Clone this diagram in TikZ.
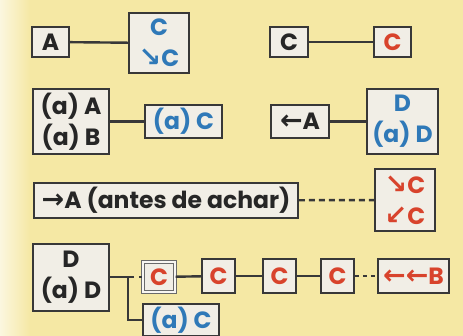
\documentclass[tikz,border=0pt]{standalone}
\usepackage{fontspec}
\setmainfont{Poppins}
\newfontfamily\arrowfont{DejaVu Sans}
\usetikzlibrary{positioning}
\definecolor{paperyellow}{HTML}{F5E8A4}
\definecolor{boxfill}{HTML}{F1EEE6}
\definecolor{boxline}{HTML}{383838}
\definecolor{termblue}{HTML}{2F79B8}
\definecolor{termred}{HTML}{D8432C}
\newcommand{\arr}[1]{{\arrowfont\bfseries\fontsize{27}{31}\selectfont #1}}
\tikzset{
  box/.style={draw=boxline,line width=1.8pt,fill=boxfill,align=center,inner sep=0pt,font=\bfseries\fontsize{23.5}{31}\selectfont,text=black!85},
  bluebox/.style={box,text=termblue},
  redbox/.style={box,text=termred},
  link/.style={line width=2.4pt,draw=boxline},
  dashlink/.style={link,dash pattern=on 6pt off 4pt}
}
\begin{document}
\begin{tikzpicture}[x=1pt,y=-1pt]
  \clip (0,0) rectangle (463,336);
  \fill[paperyellow] (0,0) rectangle (463,336);
  \shade[left color=paperyellow!35!white,right color=paperyellow] (0,0) rectangle (30,336);
  % first row
  \node[box,minimum width=37pt,minimum height=30pt] (a) at (50.5,42) {A};
  \node[bluebox,minimum width=60pt,minimum height=60pt] (csw) at (159,43) {C\\\arr{↘}C};
  \node[box,minimum width=38pt,minimum height=30pt] (c) at (289,42) {C};
  \node[redbox,minimum width=37pt,minimum height=30pt] (cred) at (392.5,42) {C};
  % second row
  \node[box,minimum width=76pt,minimum height=65pt] (aab) at (71,121.5) {(a) A\\(a) B};
  \node[bluebox,minimum width=77pt,minimum height=33pt] (ac) at (183.5,121.5) {(a) C};
  \node[box,minimum width=58pt,minimum height=33pt] (backa) at (300,121.5) {\arr{←}A};
  \node[bluebox,minimum width=71pt,minimum height=65pt] (dad) at (402.5,121.5) {D\\(a) D};
  % third row
  \node[box,minimum width=264pt,minimum height=35pt] (antes) at (166,200.5) {\arr{→}A (antes de achar)};
  \node[redbox,minimum width=60pt,minimum height=62pt] (cc) at (405,200) {\arr{↘}C\\\arr{↙}C};
  % fourth row
  \node[box,minimum width=76pt,minimum height=67pt] (dadb) at (71,277.5) {D\\(a) D};
  \node[redbox,minimum width=32pt,minimum height=30pt,draw=boxline!75,line width=1.4pt,double=boxfill!50!white,double distance=1.3pt] (cfirst) at (159,277) {C};
  \node[redbox,minimum width=33pt,minimum height=34pt] (ctwo) at (218.5,276) {C};
  \node[redbox,minimum width=33pt,minimum height=34pt] (cthree) at (279.5,276) {C};
  \node[redbox,minimum width=33pt,minimum height=34pt] (cfour) at (337.5,276) {C};
  \node[redbox,minimum width=71pt,minimum height=34pt] (bb) at (413.5,276) {\arr{←←}B};
  \node[bluebox,minimum width=76pt,minimum height=32pt] (acb) at (181,320) {(a) C};
  \draw[link] (a) -- (csw);
  \draw[link] (c) -- (cred);
  \draw[link] (aab) -- (ac);
  \draw[link] (backa) -- (dad);
  \draw[dashlink] (antes) -- (cc);
  \draw[link,dash pattern=on 24pt off 5pt on 6pt] (dadb.east |- cfirst) -- (cfirst);
  \draw[link] (dadb.east |- cfirst) ++(18,0) |- (acb.west);
  \draw[link] (cfirst) -- (ctwo);
  \draw[link] (ctwo) -- (cthree);
  \draw[link] (cthree) -- (cfour);
  \draw[link,dash pattern=on 4pt off 4pt] (cfour) -- (bb);
\end{tikzpicture}
\end{document}
